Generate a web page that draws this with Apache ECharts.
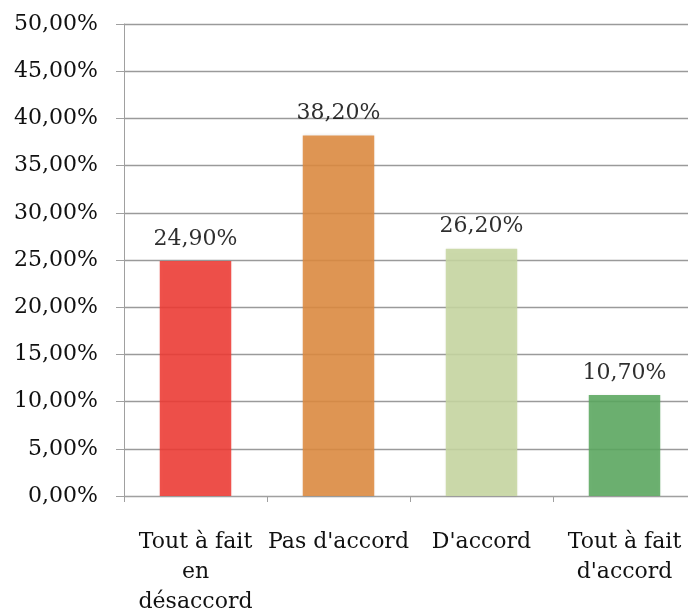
<!DOCTYPE html>
<html>
<head>
<meta charset="utf-8">
<script src="https://cdn.jsdelivr.net/npm/echarts@6/dist/echarts.min.js"></script>
<style>
  html, body { margin: 0; padding: 0; background: #fff; overflow: hidden; }
  #chart { width: 688px; height: 613px; }
</style>
</head>
<body>
<div id="chart"></div>
<script>
// Survey answers and their share of respondents (%)
const categories = ['Tout à fait\nen\ndésaccord', "Pas d'accord", "D'accord", "Tout à fait\nd'accord"];
const shares = [24.9, 38.2, 26.2, 10.7];
const barColors = ['#ee3a33', '#dd8a3f', '#c6d6a0', '#5aa75f'];

const fmt = v => v.toFixed(2).replace('.', ',') + '%';
const font = 'DejaVu Serif';

const chart = echarts.init(document.getElementById('chart'));
chart.setOption({
  animation: false,
  grid: { left: 124, right: -8, top: 24, bottom: 117, containLabel: false, outerBoundsMode: 'none' },
  xAxis: {
    type: 'category',
    data: categories,
    axisLine: { lineStyle: { color: '#a0a0a0', width: 1 } },
    axisTick: { show: true, length: 6, lineStyle: { color: '#a0a0a0' } },
    axisLabel: {
      color: '#111', fontFamily: font, fontSize: 22, margin: 31,
      lineHeight: 30, interval: 0
    }
  },
  yAxis: {
    type: 'value',
    min: 0, max: 50, interval: 5,
    axisLine: { show: true, lineStyle: { color: '#a0a0a0', width: 1 } },
    axisTick: { show: true, length: 8, lineStyle: { color: '#a0a0a0' } },
    splitLine: { lineStyle: { color: '#9a9a9a', width: 1.3 } },
    axisLabel: {
      color: '#111', fontFamily: font, fontSize: 22, margin: 26,
      formatter: v => fmt(v)
    }
  },
  series: [{
    type: 'bar',
    barWidth: '50%',
    data: shares.map((v, i) => ({
      value: v,
      itemStyle: { color: barColors[i], opacity: 0.88,
                   shadowBlur: 3, shadowColor: 'rgba(0,0,0,0.12)' }
    })),
    label: {
      show: true, position: 'top', distance: 11,
      color: '#111', fontFamily: font, fontSize: 22,
      formatter: p => fmt(p.value)
    }
  }]
});
</script>
</body>
</html>
